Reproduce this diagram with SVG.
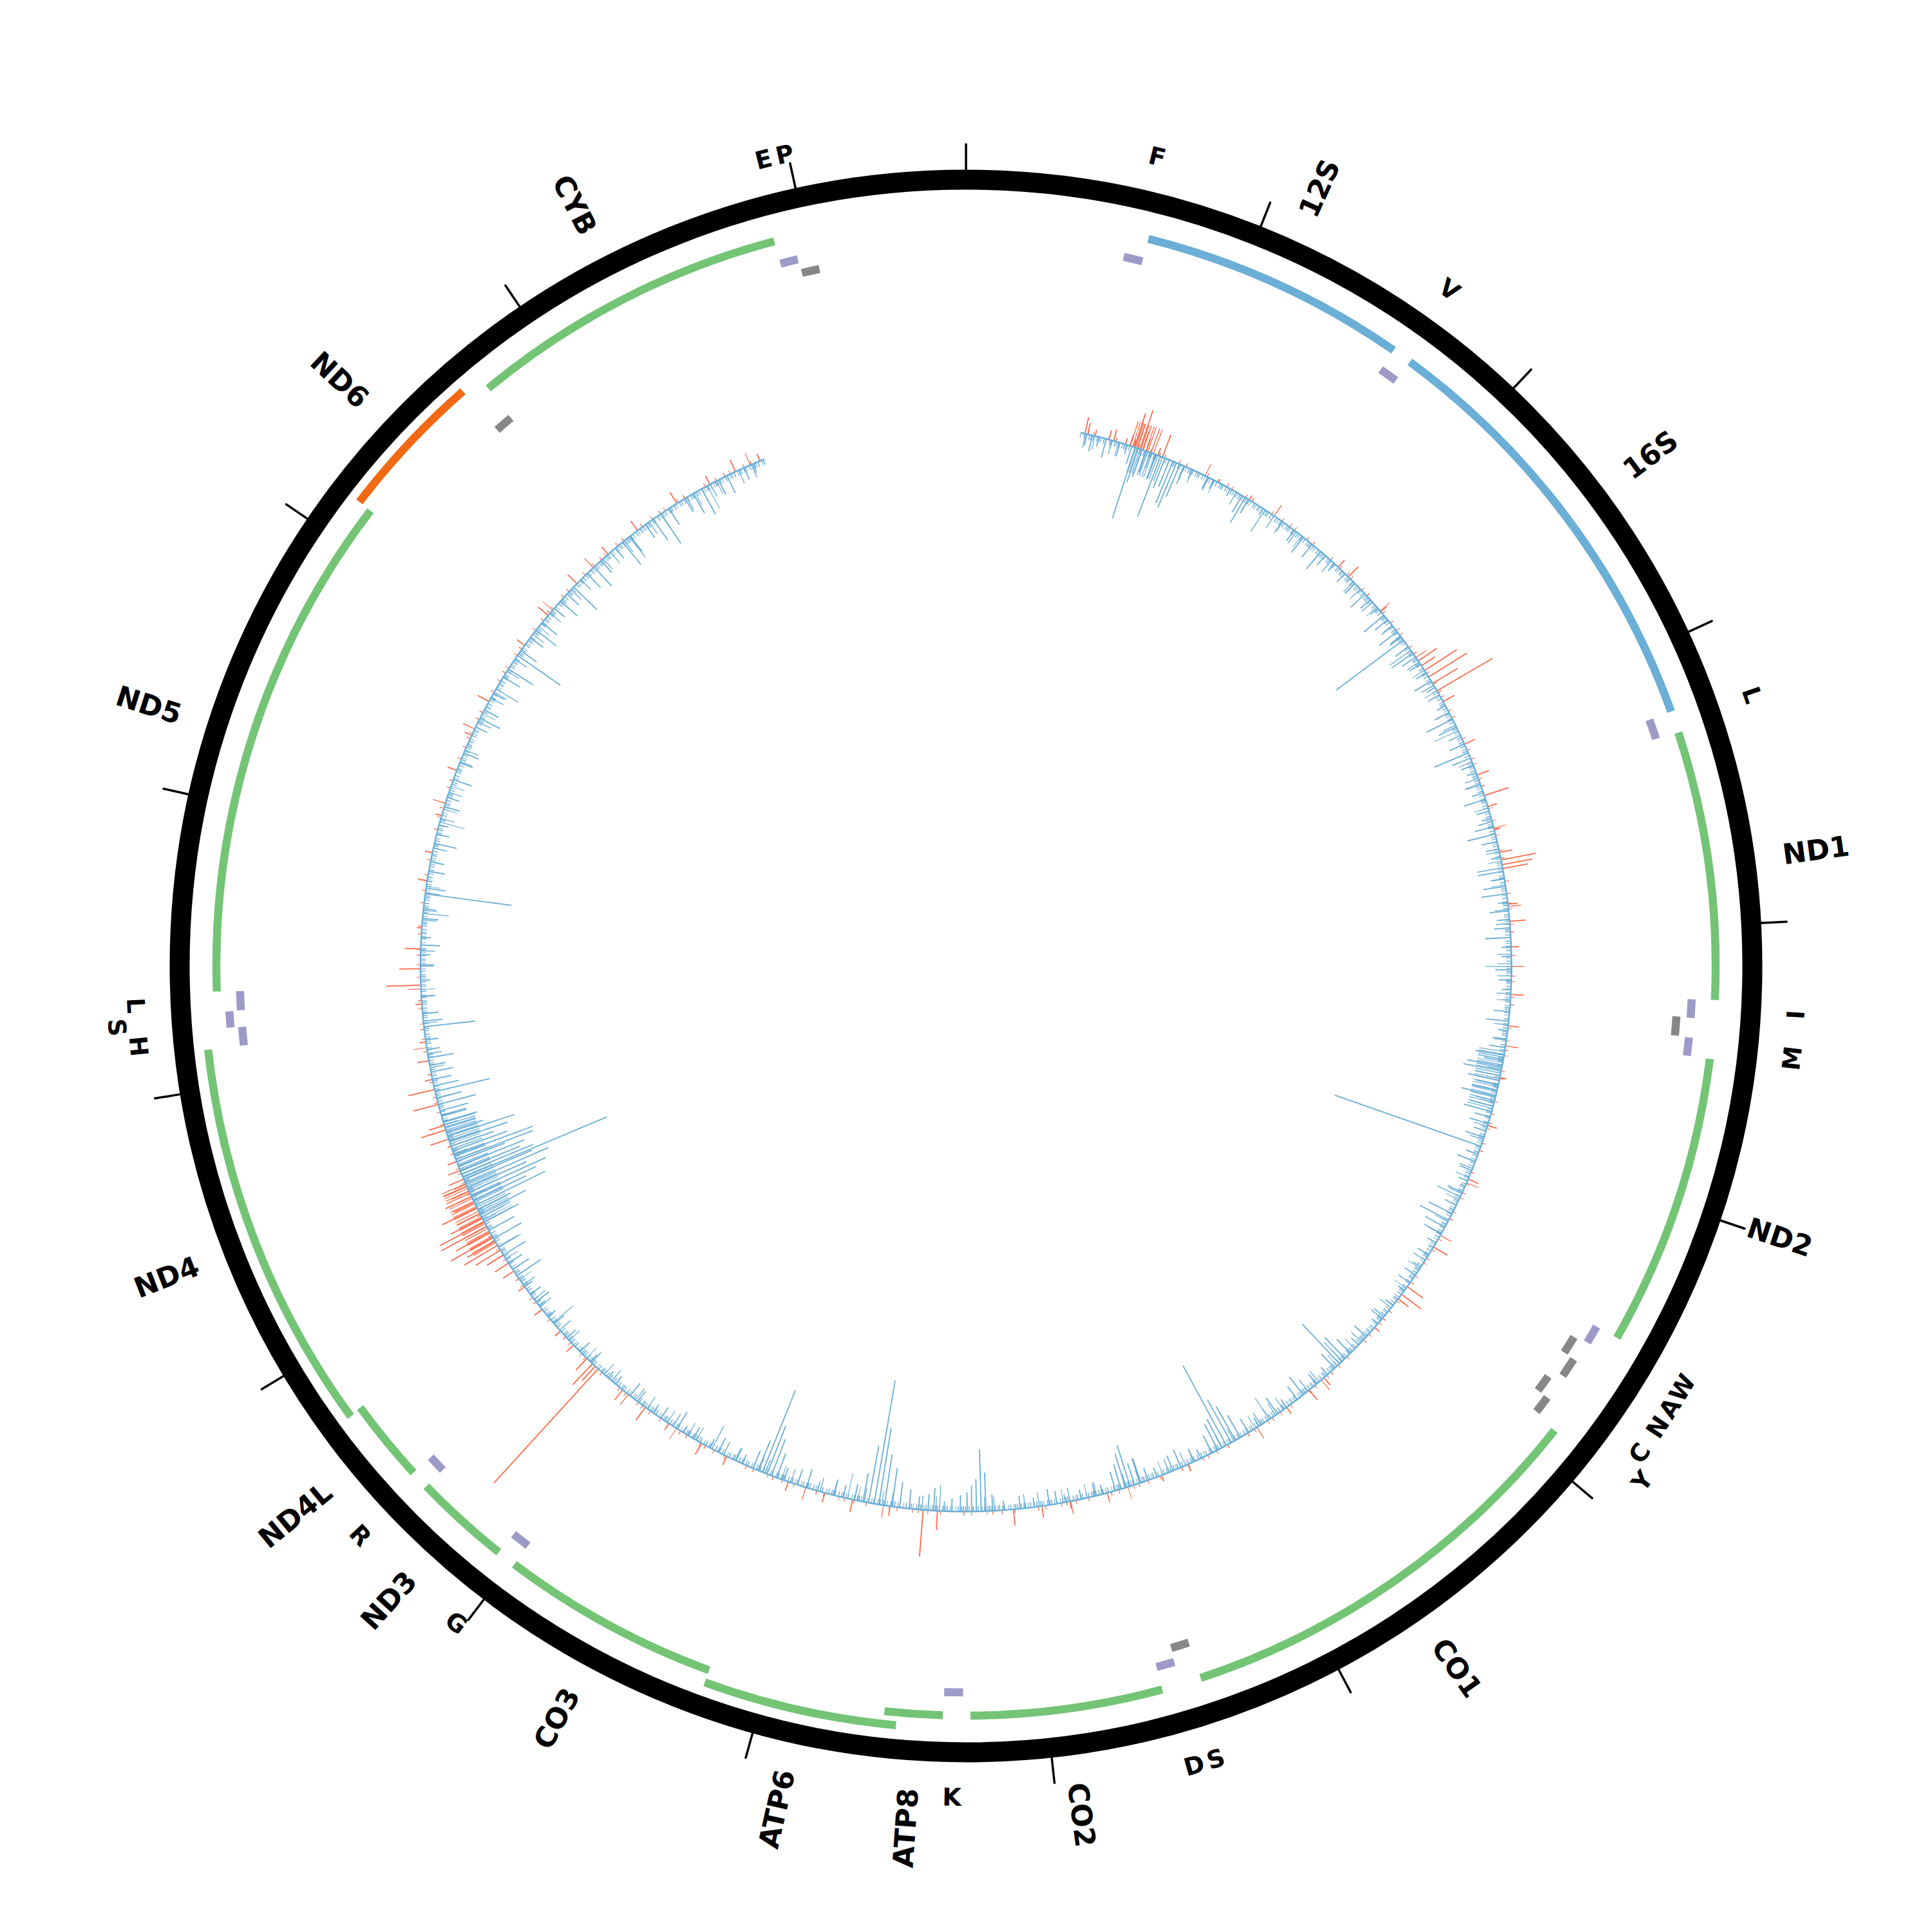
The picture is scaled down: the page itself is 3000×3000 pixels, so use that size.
<svg xmlns="http://www.w3.org/2000/svg" width="3000" height="3000" viewBox="0 0 3000 3000">
<style>
.ring{fill:none;stroke:#000;stroke-width:31}
.tick path{stroke:#000;stroke-width:3.5;stroke-linecap:round;fill:none}
.arc{fill:none;stroke-width:12.5}
.pg{stroke:#74c476}.rr{stroke:#6baed6}.mg{stroke:#f16913}.tp{stroke:#9e9ac8}.tm{stroke:#878787}
text{font-family:"DejaVu Sans","Liberation Sans",sans-serif;font-weight:bold;fill:#000;dominant-baseline:central}
.gl{font-size:44px}
.tl{font-size:38px;text-anchor:middle}
.hb path{stroke:#6baed6;stroke-width:1.8;fill:none}
.hr path{stroke:#fb6a4a;stroke-width:1.8;fill:none}
.fz{fill:none}
</style>
<defs>
<mask id="hm" maskUnits="userSpaceOnUse" x="-1500" y="-1500" width="3000" height="3000">
<circle r="847" fill="none" stroke="#fff" stroke-width="700" pathLength="360" stroke-dasharray="326.2 40" transform="rotate(-77.9)"/>
</mask>
</defs>
<rect width="3000" height="3000" fill="#fff"/>
<g transform="translate(1500,1500)">
<circle id="backbone" class="ring" r="1221"/>
<g id="ticks" class="tick">
<path d="M0-1236v-40"/>
<path d="M0-1236v-40" transform="rotate(21.727)"/>
<path d="M0-1236v-40" transform="rotate(43.455)"/>
<path d="M0-1236v-40" transform="rotate(65.182)"/>
<path d="M0-1236v-40" transform="rotate(86.909)"/>
<path d="M0-1236v-40" transform="rotate(108.637)"/>
<path d="M0-1236v-40" transform="rotate(130.364)"/>
<path d="M0-1236v-40" transform="rotate(152.091)"/>
<path d="M0-1236v-40" transform="rotate(173.818)"/>
<path d="M0-1236v-40" transform="rotate(195.546)"/>
<path d="M0-1236v-40" transform="rotate(217.273)"/>
<path d="M0-1236v-40" transform="rotate(239.0)"/>
<path d="M0-1236v-40" transform="rotate(260.728)"/>
<path d="M0-1236v-40" transform="rotate(282.455)"/>
<path d="M0-1236v-40" transform="rotate(304.182)"/>
<path d="M0-1236v-40" transform="rotate(325.91)"/>
<path d="M0-1236v-40" transform="rotate(347.637)"/>
</g>

<!-- genes -->
<g id="gene-12S"><circle class="arc rr" r="1164" pathLength="360" stroke-dasharray="20.706 400" transform="rotate(-75.921)"/><text class="gl" transform="rotate(24.432) translate(0,-1280) rotate(-90)">12S</text></g>
<g id="gene-16S"><circle class="arc rr" r="1164" pathLength="360" stroke-dasharray="33.851 400" transform="rotate(-53.694)"/><text class="gl" transform="rotate(53.232) translate(0,-1280) rotate(-90)">16S</text></g>
<g id="gene-ND1"><circle class="arc pg" r="1164" pathLength="360" stroke-dasharray="20.75 400" transform="rotate(-18.148)"/><text class="gl" transform="rotate(82.227) translate(0,-1280) rotate(-90)">ND1</text></g>
<g id="gene-ND2"><circle class="arc pg" r="1164" pathLength="360" stroke-dasharray="22.618 400" transform="rotate(7.121)"/><text class="gl" transform="rotate(108.43) translate(0,-1280) rotate(-90)">ND2</text></g>
<g id="gene-CO1"><circle class="arc pg" r="1164" pathLength="360" stroke-dasharray="33.481 400" transform="rotate(38.279)"/><text class="gl" transform="rotate(145.02) translate(0,-1280) rotate(-90)">CO1</text></g>
<g id="gene-CO2"><circle class="arc pg" r="1164" pathLength="360" stroke-dasharray="14.839 400" transform="rotate(74.824)"/><text class="gl" transform="rotate(172.244) translate(0,-1280) rotate(-90)">CO2</text></g>
<g id="gene-ATP8"><circle class="arc pg" r="1164" pathLength="360" stroke-dasharray="4.476 400" transform="rotate(91.771)"/><text class="gl" text-anchor="end" transform="rotate(184.009) translate(0,-1280) rotate(90)">ATP8</text></g>
<g id="gene-ATP6"><circle class="arc pg" r="1184" pathLength="360" stroke-dasharray="14.774 400" transform="rotate(95.269)"/><text class="gl" text-anchor="end" transform="rotate(192.656) translate(0,-1280) rotate(90)">ATP6</text></g>
<g id="gene-CO3"><circle class="arc pg" r="1164" pathLength="360" stroke-dasharray="17.013 400" transform="rotate(110.043)"/><text class="gl" text-anchor="end" transform="rotate(208.55) translate(0,-1280) rotate(90)">CO3</text></g>
<g id="gene-ND3"><circle class="arc pg" r="1164" pathLength="360" stroke-dasharray="7.496 400" transform="rotate(128.555)"/><text class="gl" text-anchor="end" transform="rotate(222.303) translate(0,-1280) rotate(90)">ND3</text></g>
<g id="gene-ND4L"><circle class="arc pg" r="1164" pathLength="360" stroke-dasharray="6.431 400" transform="rotate(137.485)"/><text class="gl" text-anchor="end" transform="rotate(230.701) translate(0,-1280) rotate(90)">ND4L</text></g>
<g id="gene-ND4"><circle class="arc pg" r="1184" pathLength="360" stroke-dasharray="29.918 400" transform="rotate(143.786)"/><text class="gl" text-anchor="end" transform="rotate(248.745) translate(0,-1280) rotate(90)">ND4</text></g>
<g id="gene-ND5"><circle class="arc pg" r="1164" pathLength="360" stroke-dasharray="39.348 400" transform="rotate(178.05)"/><text class="gl" text-anchor="end" transform="rotate(287.724) translate(0,-1280) rotate(90)">ND5</text></g>
<g id="gene-ND6"><circle class="arc mg" r="1186" pathLength="360" stroke-dasharray="11.385 400" transform="rotate(217.42)"/><text class="gl" text-anchor="end" transform="rotate(313.113) translate(0,-1280) rotate(90)">ND6</text></g>
<g id="gene-CYB"><circle class="arc pg" r="1164" pathLength="360" stroke-dasharray="24.769 400" transform="rotate(230.413)"/><text class="gl" text-anchor="end" transform="rotate(332.798) translate(0,-1280) rotate(90)">CYB</text></g>

<!-- tRNAs -->
<g id="trna-F"><circle class="arc tp" r="1128" pathLength="360" stroke-dasharray="1.521 400" transform="rotate(-77.463)"/><text class="tl" transform="rotate(13.3) translate(0,-1291)">F</text></g>
<g id="trna-V"><circle class="arc tp" r="1128" pathLength="360" stroke-dasharray="1.478 400" transform="rotate(-55.193)"/><text class="tl" transform="rotate(35.55) translate(0,-1291)">V</text></g>
<g id="trna-L1"><circle class="arc tp" r="1128" pathLength="360" stroke-dasharray="1.608 400" transform="rotate(-19.821)"/><text class="tl" transform="rotate(70.98) translate(0,-1291)">L</text></g>
<g id="trna-I"><circle class="arc tp" r="1128" pathLength="360" stroke-dasharray="1.477 400" transform="rotate(2.624)"/><text class="tl" transform="rotate(93.36) translate(0,-1291) rotate(180)">I</text></g>
<g id="trna-Q"><circle class="arc tm" r="1106" pathLength="360" stroke-dasharray="1.543 400" transform="rotate(4.057)"/></g>
<g id="trna-M"><circle class="arc tp" r="1128" pathLength="360" stroke-dasharray="1.456 400" transform="rotate(5.643)"/><text class="tl" transform="rotate(96.37) translate(0,-1291) rotate(180)">M</text></g>
<g id="trna-W"><circle class="arc tp" r="1128" pathLength="360" stroke-dasharray="1.456 400" transform="rotate(29.761)"/><text class="tl" transform="rotate(120.49) translate(0,-1291) rotate(180)">W</text></g>
<g id="trna-A"><circle class="arc tm" r="1106" pathLength="360" stroke-dasharray="1.478 400" transform="rotate(31.39)"/><text class="tl" transform="rotate(122.13) translate(0,-1291) rotate(180)">A</text></g>
<g id="trna-N"><circle class="arc tm" r="1124" pathLength="360" stroke-dasharray="1.565 400" transform="rotate(32.911)"/><text class="tl" transform="rotate(123.69) translate(0,-1291) rotate(180)">N</text></g>
<g id="trna-C"><circle class="arc tm" r="1106" pathLength="360" stroke-dasharray="1.413 400" transform="rotate(35.171)"/><text class="tl" transform="rotate(125.88) translate(0,-1291) rotate(180)">C</text></g>
<g id="trna-Y"><circle class="arc tm" r="1124" pathLength="360" stroke-dasharray="1.412 400" transform="rotate(36.584)"/><text class="tl" transform="rotate(127.29) translate(0,-1320) rotate(180)">Y</text></g>
<g id="trna-S1"><circle class="arc tm" r="1106" pathLength="360" stroke-dasharray="1.477 400" transform="rotate(71.782)"/><text class="tl" transform="rotate(162.52) translate(0,-1291) rotate(180)">S</text></g>
<g id="trna-D"><circle class="arc tp" r="1128" pathLength="360" stroke-dasharray="1.456 400" transform="rotate(73.346)"/><text class="tl" transform="rotate(164.07) translate(0,-1291) rotate(180)">D</text></g>
<g id="trna-K"><circle class="arc tp" r="1128" pathLength="360" stroke-dasharray="1.499 400" transform="rotate(90.228)"/><text class="tl" transform="rotate(180.98) translate(0,-1291) rotate(180)">K</text></g>
<g id="trna-G"><circle class="arc tp" r="1128" pathLength="360" stroke-dasharray="1.456 400" transform="rotate(127.077)"/><text class="tl" transform="rotate(217.81) translate(0,-1291) rotate(180)">G</text></g>
<g id="trna-R"><circle class="arc tp" r="1128" pathLength="360" stroke-dasharray="1.39 400" transform="rotate(136.073)"/><text class="tl" transform="rotate(226.77) translate(0,-1291) rotate(180)">R</text></g>
<g id="trna-H"><circle class="arc tp" r="1128" pathLength="360" stroke-dasharray="1.477 400" transform="rotate(173.726)"/><text class="tl" transform="rotate(264.46) translate(0,-1291) rotate(180)">H</text></g>
<g id="trna-S2"><circle class="arc tp" r="1146" pathLength="360" stroke-dasharray="1.26 400" transform="rotate(175.225)"/><text class="tl" transform="rotate(265.86) translate(0,-1322) rotate(180)">S</text></g>
<g id="trna-L2"><circle class="arc tp" r="1128" pathLength="360" stroke-dasharray="1.521 400" transform="rotate(176.507)"/><text class="tl" transform="rotate(267.27) translate(0,-1291) rotate(180)">L</text></g>
<g id="trna-E"><circle class="arc tm" r="1106" pathLength="360" stroke-dasharray="1.478 400" transform="rotate(228.826)"/></g>
<g id="trna-T"><circle class="arc tp" r="1128" pathLength="360" stroke-dasharray="1.412 400" transform="rotate(255.204)"/><text class="tl" transform="rotate(345.91) translate(0,-1291)">E</text></g>
<g id="trna-P"><circle class="arc tm" r="1106" pathLength="360" stroke-dasharray="1.456 400" transform="rotate(256.681)"/><text class="tl" transform="rotate(347.41) translate(0,-1291)">P</text></g>

<!-- histogram -->
<g id="histogram" mask="url(#hm)">
<circle class="fz" r="850" stroke="#fb6a4a" stroke-width="6" pathLength="3600" stroke-dasharray="0.8 9.3 0.9 5.1 0.7 15.6 0.8 7.2 1 23.7 0.8 12.4"/>
<circle class="fz" r="857" stroke="#fb6a4a" stroke-width="20" pathLength="3600" stroke-dasharray="0.8 83 0.9 149 0.7 61 0.9 197"/>
<circle class="fz" r="867" stroke="#fb6a4a" stroke-width="40" pathLength="3600" transform="rotate(149.5)" stroke-dasharray="0.9 1.6 0.8 2.4 1 1.2 0.9 2.9 0.8 1.5 1 2.1 0.9 1.3 0.8 2.7 1 1.8 0.9 2.2 0.8 1.4 1 3.1 0.9 1.7 0.8 2.5 1 1.1 0.9 2.3 0.8 1.9 1 2.6 0.9 1.5 0.8 2.8 1 1.6 0.9 2 0.8 1.3 1 2.4 0.9 1.8 0 3600"/>
<circle class="fz" r="867" stroke="#fb6a4a" stroke-width="40" pathLength="3600" transform="rotate(-72.5)" stroke-dasharray="0.9 1.6 0.8 2.4 1 1.2 0.9 2.9 0.8 1.5 1 2.1 0.9 1.3 0.8 2.7 1 1.8 0.9 2.2 0 3600"/>
<circle class="fz" r="843" stroke="#6baed6" stroke-width="8" pathLength="3600" stroke-dasharray="1 1.3 0.8 2.2 1.1 0.9 0.7 1.8 1 2.9 0.8 1.2 1.2 0.8 0.9 2.5 1 1.6 0.7 3.3"/>
<circle class="fz" r="836" stroke="#6baed6" stroke-width="22" pathLength="3600" stroke-dasharray="0.9 9.3 0.8 17.7 1 6.1 0.7 25.2 0.9 13.8 1 31.3"/>
<circle class="fz" r="827" stroke="#6baed6" stroke-width="40" pathLength="3600" stroke-dasharray="0.9 97 0.8 151 1 213"/>
<circle class="fz" r="822" stroke="#6baed6" stroke-width="50" pathLength="3600" transform="rotate(152)" stroke-dasharray="0.9 1.6 0.8 2.4 1 1.2 0.9 2.9 0.8 1.5 1 2.1 0.9 1.3 0.8 2.7 1 1.8 0.9 2.2 0.8 1.4 1 3.1 0.9 1.7 0.8 2.5 1 1.1 0.9 2.3 0.8 1.9 1 2.6 0.9 1.5 0.8 2.8 1 1.6 0.9 2 0.8 1.3 1 2.4 0.9 1.8 0.8 2.2 1 1.4 0.9 2.9 0.8 1.6 1 2.3 0.9 1.6 0.8 2.4 1 1.2 0.9 2.9 0.8 1.5 1 2.1 0.9 1.3 0.8 2.7 1 1.8 0.9 2.2 0 3600"/>
<circle class="fz" r="827" stroke="#6baed6" stroke-width="40" pathLength="3600" transform="rotate(9)" stroke-dasharray="0.9 1.6 0.8 2.4 1 1.2 0.9 2.9 0.8 1.5 1 2.1 0.9 1.3 0.8 2.7 1 1.8 0.9 2.2 0.8 1.4 1 3.1 0.9 1.7 0.8 2.5 1 1.1 0.9 2.3 0.8 1.9 1 2.6 0.9 1.5 0.8 2.8 1 1.6 0.9 2 0 3600"/>
<circle class="fz" r="827" stroke="#6baed6" stroke-width="40" pathLength="3600" transform="rotate(-72)" stroke-dasharray="0.9 1.6 0.8 2.4 1 1.2 0.9 2.9 0.8 1.5 1 2.1 0.9 1.3 0.8 2.7 1 1.8 0.9 2.2 0.8 1.4 1 3.1 0 3600"/>
<g class="hr">
<path d="M0-847v-26" transform="rotate(12.6)"/><path d="M0-847v-18" transform="rotate(12.9)"/><path d="M0-847v-10" transform="rotate(13.7)"/><path d="M0-847v-15" transform="rotate(15.2)"/><path d="M0-847v-18" transform="rotate(15.7)"/><path d="M0-847v-10" transform="rotate(17)"/><path d="M0-847v-17" transform="rotate(17.5)"/><path d="M0-847v-12" transform="rotate(17.9)"/><path d="M0-847v-55" transform="rotate(18)"/><path d="M0-847v-40" transform="rotate(18.3)"/><path d="M0-847v-63" transform="rotate(18.6)"/><path d="M0-847v-30" transform="rotate(18.9)"/><path d="M0-847v-20" transform="rotate(19.3)"/><path d="M0-847v-12" transform="rotate(20.6)"/><path d="M0-847v-37" transform="rotate(21.1)"/><path d="M0-847v-5" transform="rotate(27.5)"/><path d="M0-847v-8" transform="rotate(31.3)"/><path d="M0-847v-15" transform="rotate(43)"/><path d="M0-847v-22" transform="rotate(44.5)"/><path d="M0-847v-12" transform="rotate(49.5)"/><path d="M0-847v-35" transform="rotate(56)"/><path d="M0-847v-25" transform="rotate(56.6)"/><path d="M0-847v-60" transform="rotate(57.2)"/><path d="M0-847v-70" transform="rotate(58)"/><path d="M0-847v-45" transform="rotate(58.8)"/><path d="M0-847v-100" transform="rotate(59.7)"/><path d="M0-847v-20" transform="rotate(61)"/><path d="M0-847v-18" transform="rotate(66)"/><path d="M0-847v-20" transform="rotate(69.5)"/><path d="M0-847v-40" transform="rotate(71.8)"/><path d="M0-847v-15" transform="rotate(73)"/><path d="M0-847v-10" transform="rotate(75.5)"/><path d="M0-847v-20" transform="rotate(78)"/><path d="M0-847v-55" transform="rotate(78.8)"/><path d="M0-847v-48" transform="rotate(79.3)"/><path d="M0-847v-40" transform="rotate(79.7)"/><path d="M0-847v-15" transform="rotate(83.5)"/><path d="M0-847v-25" transform="rotate(85.3)"/><path d="M0-847v-12" transform="rotate(88)"/><path d="M0-847v-20" transform="rotate(93)"/><path d="M0-847v-17" transform="rotate(96.3)"/><path d="M0-847v-10" transform="rotate(101.8)"/><path d="M0-847v-15" transform="rotate(107)"/><path d="M0-847v-18" transform="rotate(113)"/><path d="M0-847v-25" transform="rotate(121)"/><path d="M0-847v-30" transform="rotate(126)"/><path d="M0-847v-38" transform="rotate(127)"/><path d="M0-847v-20" transform="rotate(127.6)"/><path d="M0-847v-10" transform="rotate(131.5)"/><path d="M0-847v-15" transform="rotate(139)"/><path d="M0-847v-20" transform="rotate(141)"/><path d="M0-847v-12" transform="rotate(144)"/><path d="M0-847v-12" transform="rotate(156)"/><path d="M0-847v-10" transform="rotate(159)"/><path d="M0-847v-15" transform="rotate(165)"/><path d="M0-847v-12" transform="rotate(169)"/><path d="M0-847v-18" transform="rotate(172)"/><path d="M0-847v-25" transform="rotate(175)"/><path d="M0-847v-30" transform="rotate(183)"/><path d="M0-847v-73" transform="rotate(184.5)"/><path d="M0-847v-15" transform="rotate(188)"/><path d="M0-847v-20" transform="rotate(192)"/><path d="M0-847v-15" transform="rotate(195)"/><path d="M0-847v-15" transform="rotate(199)"/><path d="M0-847v-15" transform="rotate(206)"/><path d="M0-847v-20" transform="rotate(209)"/><path d="M0-847v-12" transform="rotate(213)"/><path d="M0-847v-25" transform="rotate(216)"/><path d="M0-847v-20" transform="rotate(219)"/><path d="M0-847v-240" transform="rotate(222.4)"/><path d="M0-847v-30" transform="rotate(222.8)"/><path d="M0-847v-45" transform="rotate(223.2)"/><path d="M0-847v-25" transform="rotate(224)"/><path d="M0-847v-15" transform="rotate(226)"/><path d="M0-847v-12" transform="rotate(228)"/><path d="M0-847v-15" transform="rotate(231)"/><path d="M0-847v-12" transform="rotate(234)"/><path d="M0-847v-20" transform="rotate(236)"/><path d="M0-847v-25" transform="rotate(237)"/><path d="M0-847v-30" transform="rotate(238)"/><path d="M0-847v-45" transform="rotate(238.6)"/><path d="M0-847v-60" transform="rotate(239.2)"/><path d="M0-847v-50" transform="rotate(239.7)"/><path d="M0-847v-75" transform="rotate(240.2)"/><path d="M0-847v-60" transform="rotate(240.8)"/><path d="M0-847v-80" transform="rotate(241.5)"/><path d="M0-847v-78" transform="rotate(242)"/><path d="M0-847v-55" transform="rotate(242.5)"/><path d="M0-847v-40" transform="rotate(243)"/><path d="M0-847v-60" transform="rotate(243.7)"/><path d="M0-847v-35" transform="rotate(244.3)"/><path d="M0-847v-45" transform="rotate(245)"/><path d="M0-847v-30" transform="rotate(245.6)"/><path d="M0-847v-40" transform="rotate(246.2)"/><path d="M0-847v-25" transform="rotate(247)"/><path d="M0-847v-20" transform="rotate(248)"/><path d="M0-847v-15" transform="rotate(249)"/><path d="M0-847v-30" transform="rotate(251.5)"/><path d="M0-847v-40" transform="rotate(252.5)"/><path d="M0-847v-25" transform="rotate(253)"/><path d="M0-847v-40" transform="rotate(255.3)"/><path d="M0-847v-42" transform="rotate(256.9)"/><path d="M0-847v-12" transform="rotate(258)"/><path d="M0-847v-18" transform="rotate(260)"/><path d="M0-847v-10" transform="rotate(262)"/><path d="M0-847v-10" transform="rotate(266)"/><path d="M0-847v-54" transform="rotate(268)"/><path d="M0-847v-33" transform="rotate(269.7)"/><path d="M0-847v-25" transform="rotate(271.8)"/><path d="M0-847v-8" transform="rotate(274)"/><path d="M0-847v-15" transform="rotate(279)"/><path d="M0-847v-12" transform="rotate(282)"/><path d="M0-847v-10" transform="rotate(286)"/><path d="M0-847v-15" transform="rotate(291)"/><path d="M0-847v-12" transform="rotate(295)"/><path d="M0-847v-20" transform="rotate(299)"/><path d="M0-847v-15" transform="rotate(306)"/><path d="M0-847v-20" transform="rotate(310)"/><path d="M0-847v-20" transform="rotate(314.5)"/><path d="M0-847v-15" transform="rotate(319)"/><path d="M0-847v-18" transform="rotate(323)"/><path d="M0-847v-20" transform="rotate(328)"/><path d="M0-847v-15" transform="rotate(332)"/><path d="M0-847v-20" transform="rotate(335)"/><path d="M0-847v-12" transform="rotate(337.8)"/>
</g>
<g class="hb">
<path d="M0-847v18" transform="rotate(12.8)"/><path d="M0-847v25" transform="rotate(13.4)"/><path d="M0-847v15" transform="rotate(14.1)"/><path d="M0-847v30" transform="rotate(14.9)"/><path d="M0-847v12" transform="rotate(15.5)"/><path d="M0-847v22" transform="rotate(16.4)"/><path d="M0-847v15" transform="rotate(17.2)"/><path d="M0-847v28" transform="rotate(17.7)"/><path d="M0-847v115" transform="rotate(18.1)"/><path d="M0-847v55" transform="rotate(18.4)"/><path d="M0-847v45" transform="rotate(18.8)"/><path d="M0-847v35" transform="rotate(19.3)"/><path d="M0-847v25" transform="rotate(19.8)"/><path d="M0-847v40" transform="rotate(20.4)"/><path d="M0-847v100" transform="rotate(20.9)"/><path d="M0-847v50" transform="rotate(21.4)"/><path d="M0-847v45" transform="rotate(21.9)"/><path d="M0-847v70" transform="rotate(22.3)"/><path d="M0-847v75" transform="rotate(22.7)"/><path d="M0-847v55" transform="rotate(23.1)"/><path d="M0-847v30" transform="rotate(23.6)"/><path d="M0-847v15" transform="rotate(24.5)"/><path d="M0-847v20" transform="rotate(26.3)"/><path d="M0-847v15" transform="rotate(27)"/><path d="M0-847v12" transform="rotate(29)"/><path d="M0-847v30" transform="rotate(30.4)"/><path d="M0-847v45" transform="rotate(30.8)"/><path d="M0-847v25" transform="rotate(31.2)"/><path d="M0-847v12" transform="rotate(33)"/><path d="M0-847v18" transform="rotate(35.5)"/><path d="M0-847v20" transform="rotate(37)"/><path d="M0-847v30" transform="rotate(38.2)"/><path d="M0-847v25" transform="rotate(39.4)"/><path d="M0-847v35" transform="rotate(40.6)"/><path d="M0-847v20" transform="rotate(41.2)"/><path d="M0-847v15" transform="rotate(42.5)"/>
<path d="M0-847v18" transform="rotate(44)"/><path d="M0-847v22" transform="rotate(45.5)"/><path d="M0-847v30" transform="rotate(47)"/><path d="M0-847v20" transform="rotate(47.8)"/><path d="M0-847v15" transform="rotate(49)"/><path d="M0-847v40" transform="rotate(50)"/><path d="M0-847v25" transform="rotate(50.6)"/><path d="M0-847v18" transform="rotate(51.4)"/><path d="M0-847v35" transform="rotate(52.2)"/><path d="M0-847v20" transform="rotate(52.8)"/><path d="M0-847v130" transform="rotate(53.3)"/><path d="M0-847v25" transform="rotate(54.2)"/><path d="M0-847v40" transform="rotate(55)"/><path d="M0-847v25" transform="rotate(55.5)"/><path d="M0-847v20" transform="rotate(56.4)"/><path d="M0-847v18" transform="rotate(57.5)"/><path d="M0-847v30" transform="rotate(58.5)"/><path d="M0-847v15" transform="rotate(59.3)"/><path d="M0-847v20" transform="rotate(60.2)"/>
<path d="M0-847v15" transform="rotate(61.5)"/><path d="M0-847v25" transform="rotate(62.3)"/><path d="M0-847v45" transform="rotate(63.1)"/><path d="M0-847v30" transform="rotate(64)"/><path d="M0-847v20" transform="rotate(65)"/><path d="M0-847v25" transform="rotate(66)"/><path d="M0-847v57" transform="rotate(67)"/><path d="M0-847v30" transform="rotate(67.6)"/><path d="M0-847v20" transform="rotate(68.4)"/><path d="M0-847v15" transform="rotate(69.2)"/><path d="M0-847v25" transform="rotate(70.5)"/><path d="M0-847v18" transform="rotate(71.5)"/><path d="M0-847v35" transform="rotate(72.2)"/><path d="M0-847v20" transform="rotate(73.5)"/><path d="M0-847v15" transform="rotate(74.3)"/><path d="M0-847v30" transform="rotate(75.2)"/><path d="M0-847v45" transform="rotate(76)"/><path d="M0-847v25" transform="rotate(76.8)"/><path d="M0-847v20" transform="rotate(77.6)"/><path d="M0-847v15" transform="rotate(78.5)"/><path d="M0-847v40" transform="rotate(80)"/><path d="M0-847v20" transform="rotate(80.8)"/><path d="M0-847v35" transform="rotate(81.6)"/><path d="M0-847v40" transform="rotate(82.4)"/><path d="M0-847v15" transform="rotate(83.3)"/><path d="M0-847v30" transform="rotate(84.2)"/><path d="M0-847v20" transform="rotate(85.1)"/><path d="M0-847v25" transform="rotate(86)"/><path d="M0-847v40" transform="rotate(87)"/><path d="M0-847v15" transform="rotate(88)"/><path d="M0-847v15" transform="rotate(89)"/><path d="M0-847v25" transform="rotate(90.4)"/><path d="M0-847v20" transform="rotate(91.5)"/><path d="M0-847v15" transform="rotate(92.5)"/><path d="M0-847v12" transform="rotate(93.6)"/><path d="M0-847v25" transform="rotate(94.8)"/>
<path d="M0-847v35" transform="rotate(95.8)"/><path d="M0-847v15" transform="rotate(96.8)"/><path d="M0-847v20" transform="rotate(97.8)"/><path d="M0-847v25" transform="rotate(98.6)"/><path d="M0-847v45" transform="rotate(99.4)"/><path d="M0-847v30" transform="rotate(100)"/><path d="M0-847v55" transform="rotate(100.6)"/><path d="M0-847v60" transform="rotate(101.1)"/><path d="M0-847v40" transform="rotate(101.6)"/><path d="M0-847v50" transform="rotate(102.1)"/><path d="M0-847v35" transform="rotate(102.6)"/><path d="M0-847v40" transform="rotate(103.2)"/><path d="M0-847v55" transform="rotate(103.8)"/><path d="M0-847v30" transform="rotate(104.3)"/><path d="M0-847v35" transform="rotate(104.9)"/><path d="M0-847v45" transform="rotate(105.5)"/><path d="M0-847v25" transform="rotate(106.1)"/><path d="M0-847v30" transform="rotate(106.8)"/><path d="M0-847v20" transform="rotate(107.6)"/><path d="M0-847v30" transform="rotate(108.3)"/><path d="M0-847v240" transform="rotate(109.3)"/><path d="M0-847v20" transform="rotate(110.2)"/><path d="M0-847v30" transform="rotate(111)"/><path d="M0-847v20" transform="rotate(112)"/><path d="M0-847v15" transform="rotate(113.2)"/><path d="M0-847v25" transform="rotate(114.5)"/>
<path d="M0-847v20" transform="rotate(116)"/><path d="M0-847v40" transform="rotate(117)"/><path d="M0-847v50" transform="rotate(117.8)"/><path d="M0-847v35" transform="rotate(118.6)"/><path d="M0-847v30" transform="rotate(119.4)"/><path d="M0-847v15" transform="rotate(120.5)"/><path d="M0-847v20" transform="rotate(122)"/><path d="M0-847v15" transform="rotate(123.5)"/><path d="M0-847v20" transform="rotate(124.5)"/><path d="M0-847v12" transform="rotate(126.5)"/><path d="M0-847v15" transform="rotate(128.5)"/><path d="M0-847v20" transform="rotate(130)"/><path d="M0-847v12" transform="rotate(131)"/><path d="M0-847v25" transform="rotate(132.8)"/><path d="M0-847v15" transform="rotate(134)"/><path d="M0-847v30" transform="rotate(135.2)"/><path d="M0-847v45" transform="rotate(136)"/><path d="M0-847v84" transform="rotate(136.8)"/><path d="M0-847v30" transform="rotate(137.5)"/><path d="M0-847v15" transform="rotate(138.5)"/><path d="M0-847v20" transform="rotate(140)"/><path d="M0-847v35" transform="rotate(141.8)"/><path d="M0-847v25" transform="rotate(142.6)"/><path d="M0-847v15" transform="rotate(144)"/><path d="M0-847v30" transform="rotate(145.2)"/><path d="M0-847v20" transform="rotate(146.2)"/><path d="M0-847v15" transform="rotate(147.5)"/><path d="M0-847v25" transform="rotate(148.8)"/>
<path d="M0-847v40" transform="rotate(149.8)"/><path d="M0-847v60" transform="rotate(150.4)"/><path d="M0-847v76" transform="rotate(150.9)"/><path d="M0-847v141" transform="rotate(151.5)"/><path d="M0-847v50" transform="rotate(152)"/><path d="M0-847v45" transform="rotate(152.5)"/><path d="M0-847v30" transform="rotate(153.2)"/><path d="M0-847v15" transform="rotate(154.5)"/><path d="M0-847v20" transform="rotate(155.3)"/><path d="M0-847v30" transform="rotate(156.8)"/><path d="M0-847v25" transform="rotate(157.7)"/><path d="M0-847v15" transform="rotate(159.5)"/><path d="M0-847v20" transform="rotate(160.5)"/><path d="M0-847v40" transform="rotate(161.3)"/><path d="M0-847v35" transform="rotate(162)"/><path d="M0-847v67" transform="rotate(162.5)"/><path d="M0-847v55" transform="rotate(163)"/><path d="M0-847v40" transform="rotate(163.5)"/><path d="M0-847v30" transform="rotate(164.1)"/><path d="M0-847v15" transform="rotate(165.5)"/><path d="M0-847v20" transform="rotate(166.3)"/><path d="M0-847v15" transform="rotate(167.8)"/><path d="M0-847v12" transform="rotate(169.5)"/><path d="M0-847v20" transform="rotate(170.4)"/><path d="M0-847v25" transform="rotate(171.2)"/><path d="M0-847v15" transform="rotate(172.8)"/><path d="M0-847v20" transform="rotate(174.3)"/><path d="M0-847v15" transform="rotate(176)"/><path d="M0-847v25" transform="rotate(177.2)"/><path d="M0-847v60" transform="rotate(177.9)"/><path d="M0-847v96" transform="rotate(178.4)"/><path d="M0-847v50" transform="rotate(178.9)"/><path d="M0-847v40" transform="rotate(179.4)"/><path d="M0-847v30" transform="rotate(179.9)"/><path d="M0-847v25" transform="rotate(180.6)"/><path d="M0-847v20" transform="rotate(181.5)"/><path d="M0-847v15" transform="rotate(182.3)"/><path d="M0-847v35" transform="rotate(183.4)"/><path d="M0-847v25" transform="rotate(184)"/><path d="M0-847v20" transform="rotate(185)"/>
<path d="M0-847v30" transform="rotate(186)"/><path d="M0-847v40" transform="rotate(187)"/><path d="M0-847v60" transform="rotate(187.8)"/><path d="M0-847v80" transform="rotate(188.6)"/><path d="M0-847v120" transform="rotate(189.2)"/><path d="M0-847v194" transform="rotate(189.7)"/><path d="M0-847v90" transform="rotate(190.3)"/><path d="M0-847v45" transform="rotate(190.9)"/><path d="M0-847v25" transform="rotate(191.8)"/><path d="M0-847v20" transform="rotate(193)"/><path d="M0-847v25" transform="rotate(194)"/><path d="M0-847v15" transform="rotate(195.8)"/><path d="M0-847v30" transform="rotate(197)"/><path d="M0-847v25" transform="rotate(198)"/><path d="M0-847v20" transform="rotate(199.5)"/><path d="M0-847v40" transform="rotate(200.3)"/><path d="M0-847v60" transform="rotate(200.9)"/><path d="M0-847v80" transform="rotate(201.4)"/><path d="M0-847v137" transform="rotate(201.9)"/><path d="M0-847v50" transform="rotate(202.4)"/><path d="M0-847v30" transform="rotate(203)"/><path d="M0-847v15" transform="rotate(204.2)"/><path d="M0-847v20" transform="rotate(205)"/><path d="M0-847v25" transform="rotate(207)"/><path d="M0-847v15" transform="rotate(208)"/><path d="M0-847v20" transform="rotate(210)"/><path d="M0-847v12" transform="rotate(211.2)"/><path d="M0-847v30" transform="rotate(212)"/><path d="M0-847v20" transform="rotate(214)"/><path d="M0-847v15" transform="rotate(215)"/><path d="M0-847v20" transform="rotate(217)"/><path d="M0-847v25" transform="rotate(218)"/><path d="M0-847v15" transform="rotate(220)"/><path d="M0-847v12" transform="rotate(221)"/><path d="M0-847v15" transform="rotate(223.5)"/><path d="M0-847v20" transform="rotate(225)"/><path d="M0-847v18" transform="rotate(227)"/><path d="M0-847v20" transform="rotate(229)"/><path d="M0-847v15" transform="rotate(230)"/><path d="M0-847v12" transform="rotate(231.5)"/><path d="M0-847v25" transform="rotate(232)"/><path d="M0-847v20" transform="rotate(233)"/><path d="M0-847v15" transform="rotate(234)"/>
<path d="M0-847v45" transform="rotate(235.4)"/><path d="M0-847v30" transform="rotate(236.2)"/><path d="M0-847v25" transform="rotate(237)"/><path d="M0-847v40" transform="rotate(238)"/><path d="M0-847v35" transform="rotate(239)"/><path d="M0-847v50" transform="rotate(240)"/><path d="M0-847v45" transform="rotate(241)"/><path d="M0-847v60" transform="rotate(242)"/><path d="M0-847v40" transform="rotate(242.6)"/><path d="M0-847v80" transform="rotate(243)"/><path d="M0-847v57" transform="rotate(243.5)"/><path d="M0-847v120" transform="rotate(244)"/><path d="M0-847v90" transform="rotate(244.5)"/><path d="M0-847v110" transform="rotate(245)"/><path d="M0-847v130" transform="rotate(245.5)"/><path d="M0-847v100" transform="rotate(246)"/><path d="M0-847v140" transform="rotate(246.5)"/><path d="M0-847v115" transform="rotate(247)"/><path d="M0-847v242" transform="rotate(247.2)"/><path d="M0-847v120" transform="rotate(247.6)"/><path d="M0-847v100" transform="rotate(248)"/><path d="M0-847v110" transform="rotate(248.5)"/><path d="M0-847v80" transform="rotate(249)"/><path d="M0-847v127" transform="rotate(249.2)"/><path d="M0-847v130" transform="rotate(249.7)"/><path d="M0-847v90" transform="rotate(250.2)"/><path d="M0-847v70" transform="rotate(250.7)"/><path d="M0-847v95" transform="rotate(251.2)"/><path d="M0-847v109" transform="rotate(251.8)"/><path d="M0-847v60" transform="rotate(252.3)"/><path d="M0-847v50" transform="rotate(252.8)"/><path d="M0-847v55" transform="rotate(253.4)"/><path d="M0-847v40" transform="rotate(254)"/><path d="M0-847v45" transform="rotate(254.6)"/><path d="M0-847v60" transform="rotate(255.3)"/><path d="M0-847v40" transform="rotate(256)"/><path d="M0-847v87" transform="rotate(256.7)"/><path d="M0-847v40" transform="rotate(257.3)"/><path d="M0-847v30" transform="rotate(258)"/><path d="M0-847v35" transform="rotate(258.8)"/><path d="M0-847v25" transform="rotate(259.5)"/><path d="M0-847v40" transform="rotate(260.3)"/><path d="M0-847v20" transform="rotate(261.2)"/>
<path d="M0-847v20" transform="rotate(262.2)"/><path d="M0-847v80" transform="rotate(263.6)"/><path d="M0-847v30" transform="rotate(264.2)"/><path d="M0-847v25" transform="rotate(265)"/><path d="M0-847v20" transform="rotate(266.8)"/><path d="M0-847v15" transform="rotate(268.5)"/><path d="M0-847v20" transform="rotate(270)"/><path d="M0-847v15" transform="rotate(271.2)"/><path d="M0-847v30" transform="rotate(272.2)"/><path d="M0-847v15" transform="rotate(273)"/><path d="M0-847v25" transform="rotate(275)"/><path d="M0-847v20" transform="rotate(276)"/><path d="M0-847v135" transform="rotate(277.6)"/><path d="M0-847v30" transform="rotate(278.2)"/><path d="M0-847v25" transform="rotate(280)"/><path d="M0-847v20" transform="rotate(281)"/><path d="M0-847v35" transform="rotate(283)"/><path d="M0-847v20" transform="rotate(284)"/><path d="M0-847v15" transform="rotate(285)"/><path d="M0-847v25" transform="rotate(287)"/><path d="M0-847v20" transform="rotate(288)"/><path d="M0-847v30" transform="rotate(290)"/><path d="M0-847v20" transform="rotate(292)"/><path d="M0-847v25" transform="rotate(293)"/><path d="M0-847v20" transform="rotate(296)"/><path d="M0-847v35" transform="rotate(297)"/><path d="M0-847v25" transform="rotate(298)"/><path d="M0-847v20" transform="rotate(300)"/><path d="M0-847v30" transform="rotate(302)"/><path d="M0-847v45" transform="rotate(303)"/><path d="M0-847v81" transform="rotate(304.7)"/><path d="M0-847v30" transform="rotate(305.3)"/><path d="M0-847v25" transform="rotate(307)"/><path d="M0-847v40" transform="rotate(308)"/><path d="M0-847v30" transform="rotate(309)"/><path d="M0-847v20" transform="rotate(311)"/><path d="M0-847v35" transform="rotate(312)"/><path d="M0-847v25" transform="rotate(313)"/><path d="M0-847v50" transform="rotate(314)"/><path d="M0-847v30" transform="rotate(316)"/><path d="M0-847v40" transform="rotate(317)"/><path d="M0-847v25" transform="rotate(318)"/><path d="M0-847v20" transform="rotate(320)"/><path d="M0-847v45" transform="rotate(321)"/><path d="M0-847v30" transform="rotate(322)"/><path d="M0-847v25" transform="rotate(324)"/><path d="M0-847v40" transform="rotate(325)"/><path d="M0-847v55" transform="rotate(326)"/><path d="M0-847v30" transform="rotate(327)"/><path d="M0-847v25" transform="rotate(329)"/><path d="M0-847v35" transform="rotate(330)"/><path d="M0-847v45" transform="rotate(331)"/><path d="M0-847v25" transform="rotate(333)"/><path d="M0-847v30" transform="rotate(334)"/><path d="M0-847v20" transform="rotate(336)"/><path d="M0-847v15" transform="rotate(337)"/>
</g>
<circle class="fz" r="847" stroke="#6baed6" stroke-width="2.5" pathLength="360" stroke-dasharray="326.2 40" transform="rotate(-77.9)"/>
</g>
</g>
</svg>
